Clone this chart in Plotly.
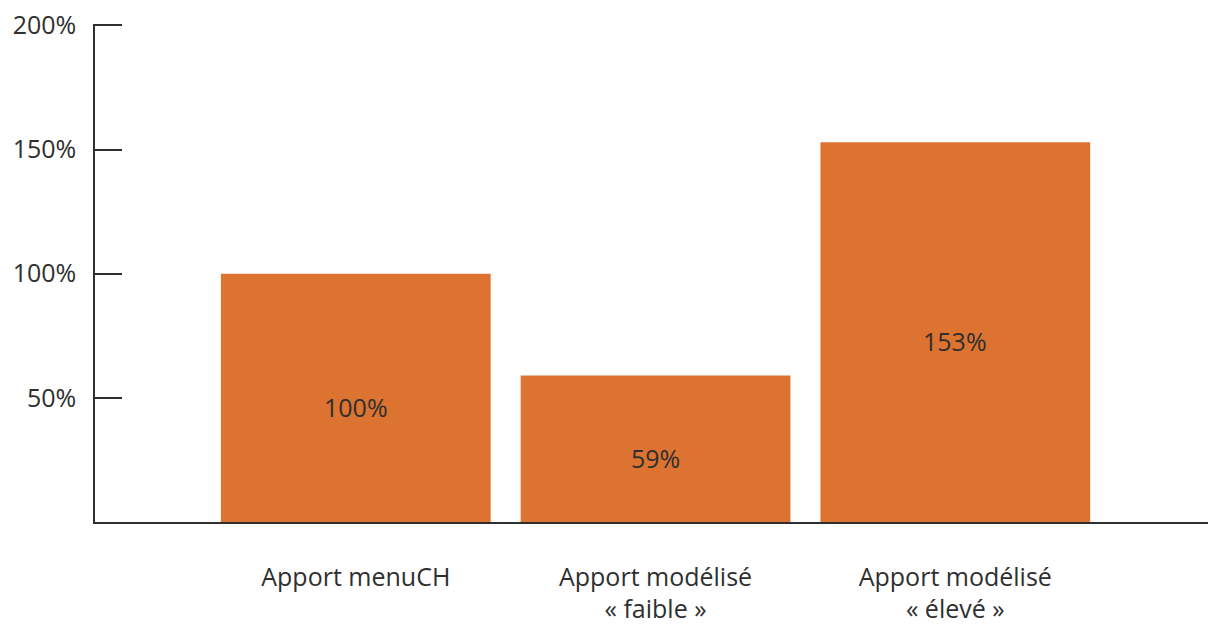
import plotly.graph_objects as go

categories = ["Apport menuCH", "Apport modélisé<br>« faible »", "Apport modélisé<br>« élevé »"]
values = [100, 59, 153]
value_labels = ["100%", "59%", "153%"]
y_tickvals = [50, 100, 150, 200]
y_ticktext = ["50%", "100%", "150%", "200%"]

BAR = "#DD7330"
INK = "#2f2f2f"
FONT = "Open Sans"

fig = go.Figure()
fig.add_trace(go.Bar(x=categories, y=values, marker=dict(color=BAR, line=dict(width=0)),
                     width=0.9, hoverinfo="skip"))

for c, v, t in zip(categories, values, value_labels):
    fig.add_annotation(x=c, y=v / 2, text=t, showarrow=False, yshift=-9,
                       font=dict(family=FONT, size=25, color=INK))

fig.update_layout(
    width=1208, height=625,
    margin=dict(l=95, r=0, t=23.5, b=100),
    paper_bgcolor="white", plot_bgcolor="white",
    showlegend=False,
    font=dict(family=FONT, color=INK),
)
fig.update_xaxes(
    type="category", range=[-0.87, 2.843],
    showline=True, linecolor=INK, linewidth=1.5,
    ticks="", showgrid=False, zeroline=False,
    tickfont=dict(family=FONT, size=25, color=INK),
    ticklabelstandoff=32,
)
fig.update_yaxes(
    range=[0, 200.6], tickvals=y_tickvals, ticktext=y_ticktext,
    showline=True, linecolor=INK, linewidth=1.5,
    ticks="inside", ticklen=27, tickwidth=1.5, tickcolor=INK,
    showgrid=False, zeroline=False,
    tickfont=dict(family=FONT, size=25, color=INK),
    ticklabelstandoff=12, ticklabeloverflow="allow",
)

fig.write_html(
    "out.html",
    config={"displayModeBar": False},
    post_script="document.body.style.margin='0';document.body.style.overflow='hidden';",
)
